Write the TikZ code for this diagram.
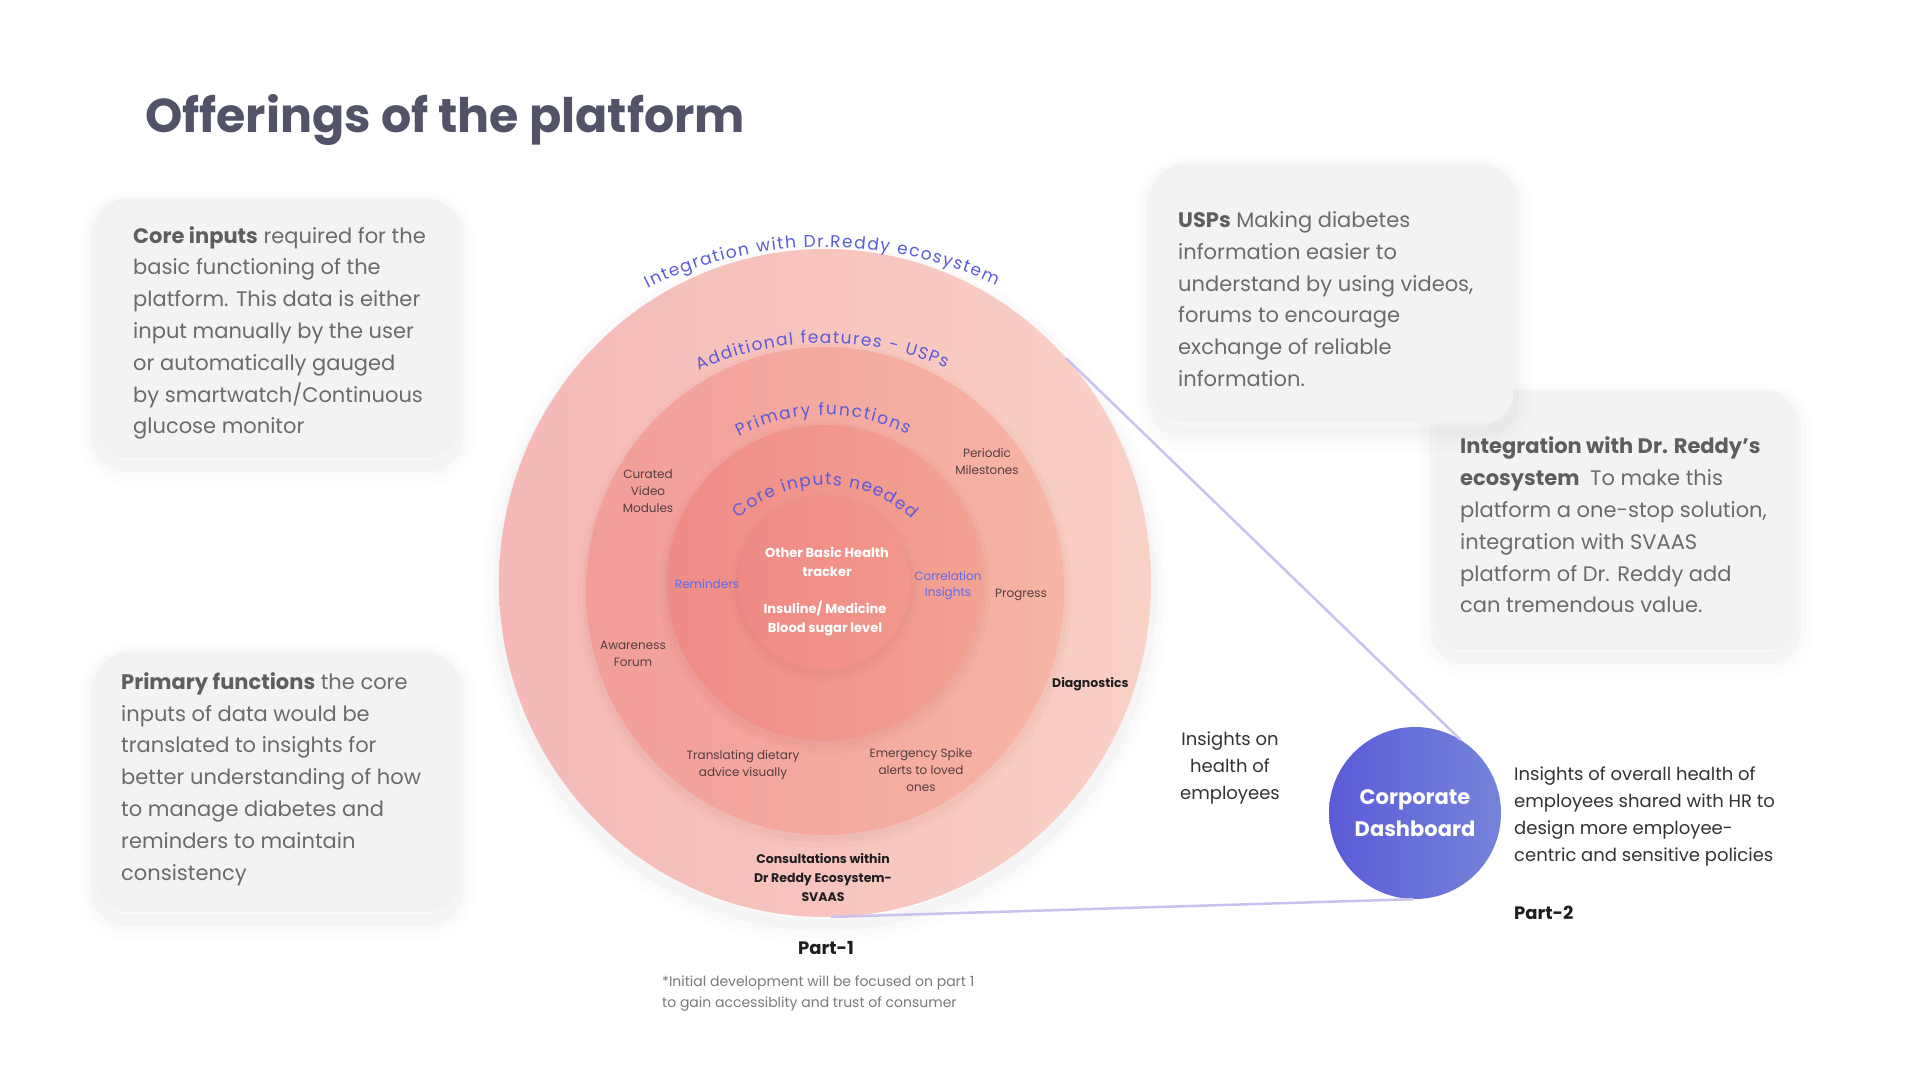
\documentclass[tikz,border=0pt]{standalone}
\usepackage{fontspec}
\setmainfont{Poppins}
\usetikzlibrary{decorations.text,shapes.geometric}
\definecolor{titlec}{HTML}{525268}
\definecolor{boxfill}{HTML}{F3F3F3}
\definecolor{bodyc}{HTML}{6B6B6B}
\definecolor{boldc}{HTML}{5E5E5E}
\definecolor{curvec}{HTML}{5A5CD8}
\definecolor{bluelab}{HTML}{5C6CE6}
\definecolor{labc}{HTML}{543E3E}
\definecolor{darkc}{HTML}{1E1E1E}
\definecolor{textc}{HTML}{333333}
\definecolor{notec}{HTML}{7A7A7A}
\definecolor{lav}{HTML}{C9C1F0}
\definecolor{r1l}{HTML}{F5B8B6}
\definecolor{r1r}{HTML}{F9D1C6}
\definecolor{r2l}{HTML}{F29D9B}
\definecolor{r2r}{HTML}{F6B5A5}
\definecolor{r3l}{HTML}{EF8B87}
\definecolor{r3r}{HTML}{F3A293}
\definecolor{r4l}{HTML}{EF8A86}
\definecolor{r4r}{HTML}{F2978C}
\definecolor{dashl}{HTML}{5A5BD7}
\definecolor{dashr}{HTML}{7584DA}
\tikzset{
 softshadow/.style={
   preaction={draw=black, draw opacity=0.008, line width=36pt, transform canvas={yshift=-10pt}},
   preaction={draw=black, draw opacity=0.012, line width=24pt, transform canvas={yshift=-9pt}},
   preaction={draw=black, draw opacity=0.018, line width=12pt, transform canvas={yshift=-8pt}}},
 ringshadow/.style={
   preaction={draw=black!60!red, draw opacity=0.02, line width=16pt, transform canvas={yshift=-5pt}},
   preaction={draw=black!60!red, draw opacity=0.025, line width=7pt, transform canvas={yshift=-4pt}}},
 card/.style={softshadow, rounded corners=30pt, fill=boxfill, inner sep=0pt, anchor=north west},
 cardtext/.style={anchor=west, align=left, inner sep=0pt, text=bodyc, font=\fontsize{21}{31.8}\selectfont},
 ring/.style={inner sep=0pt, outer sep=0pt},
 lab/.style={align=center, inner sep=0pt, text=labc, font=\fontsize{12}{17}\selectfont},
 bluel/.style={lab, text=bluelab},
 whitel/.style={align=center, inner sep=0pt, text=white, font=\fontsize{13}{19}\selectfont\bfseries},
 boldl/.style={align=center, inner sep=0pt, text=darkc, font=\fontsize{12.5}{19}\selectfont\bfseries},
 link/.style={draw=lav, line width=2.5pt},
 arctext/.style={decorate, decoration={text along path, text align=fit to path, text={|\fontsize{17}{17}\selectfont\color{curvec}|#1}}},
 plain/.style={inner sep=0pt, text=textc, font=\fontsize{18}{27}\selectfont},
}
\begin{document}
\begin{tikzpicture}[x=1pt,y=-1pt]
\fill[white] (0,0) rectangle (1920,1080);
\useasboundingbox (0,0) rectangle (1920,1080);

\node[anchor=base west, inner sep=0pt, text=titlec, font=\fontsize{47.5}{58}\selectfont\bfseries] (title) at (145,132) {Offerings of the platform};

% cards
\node[card, minimum width=360pt, minimum height=260pt] (cardA) at (97,198) {};
\node[cardtext] (textA) at (133,333) {{\bfseries\color{boldc}Core inputs} required for the\\basic functioning of the\\platform. This data is either\\input manually by the user\\or automatically gauged\\by smartwatch/Continuous\\glucose monitor};

\node[card, minimum width=360pt, minimum height=260pt] (cardB) at (97,652) {};
\node[cardtext] (textB) at (121,779) {{\bfseries\color{boldc}Primary functions} the core\\inputs of data would be\\translated to insights for\\better understanding of how\\to manage diabetes and\\reminders to maintain\\consistency};

\node[card, minimum width=360pt, minimum height=260pt] (cardD) at (1435,390) {};
\node[cardtext] (textD) at (1460,525) {{\bfseries\color{boldc}Integration with Dr. Reddy’s}\\{\bfseries\color{boldc}ecosystem}\hspace{0.5em}To make this\\platform a one-stop solution,\\integration with SVAAS\\platform of Dr. Reddy add\\can tremendous value.};

\node[card, minimum width=360pt, minimum height=259pt] (cardC) at (1153,164) {};
\node[cardtext] (textC) at (1178,299) {{\bfseries\color{boldc}USPs} Making diabetes\\information easier to\\understand by using videos,\\forums to encourage\\exchange of reliable\\information.};

% rings
\node[ring, ellipse, minimum width=652pt, minimum height=668pt, left color=r1l, right color=r1r, softshadow] (ring1) at (825,583) {};
\node[ring, ellipse, minimum width=478pt, minimum height=488pt, left color=r2l, right color=r2r, ringshadow] (ring2) at (825,591) {};
\node[ring, circle, minimum size=316pt, left color=r3l, right color=r3r, ringshadow] (ring3) at (825,583) {};
\node[ring, circle, minimum size=172pt, left color=r4l, right color=r4r, ringshadow] (ring4) at (824,583) {};

% curved titles
\coordinate (ca) at (825,650);
\coordinate (cb) at (825,644);
\coordinate (cc) at (825,599);
\coordinate (cd) at (825,611);
\path[arctext={Integration with Dr.Reddy ecosystem}] ([shift={(-116.1:403)}]ca) arc[start angle=-116.1, end angle=-64.9, radius=403];
\path[arctext={Additional features - USPs}] ([shift={(-114.8:301)}]cb) arc[start angle=-114.8, end angle=-66.3, radius=301];
\path[arctext={Primary functions}] ([shift={(-117.9:184)}]cc) arc[start angle=-117.9, end angle=-63.3, radius=184];
\path[arctext={Core inputs needed}] ([shift={(-133:126)}]cd) arc[start angle=-133, end angle=-46.6, radius=126];

% ring labels
\node[lab] (curated) at (648,491) {Curated\\Video\\Modules};
\node[lab] (periodic) at (987,461) {Periodic\\Milestones};
\node[bluel] (remind) at (707,584) {Reminders};
\node[bluel, font=\fontsize{12}{16}\selectfont] (corr) at (948,586) {Correlation\\Insights};
\node[lab] (progress) at (1021,595) {Progress};
\node[lab] (forum) at (633,654) {Awareness\\Forum};
\node[lab] (diet) at (743,765) {Translating dietary\\advice visually};
\node[lab] (spike) at (921,770) {Emergency Spike\\alerts to loved\\ones};
\node[whitel] (other) at (827,562) {Other Basic Health\\tracker};
\node[whitel] (insul) at (825,619) {Insuline/ Medicine\\Blood sugar level};
\node[boldl, anchor=west] (diag) at (1052,684) {Diagnostics};
\node[boldl] (consult) at (823,878) {Consultations within\\Dr Reddy Ecosystem-\\SVAAS};

% dashboard
\node[circle, minimum size=172pt, inner sep=0pt, left color=dashl, right color=dashr, text=white, align=center, font=\fontsize{21}{32}\selectfont\bfseries] (dash) at (1415,813) {Corporate\\Dashboard};

\draw[link] (ring1.43) -- (dash.58);
\draw[link] (ring1.-89) -- (dash.-91);

\node[plain, align=center] (inson) at (1230,768) {Insights on\\health of\\employees};
\node[plain, anchor=west, align=left] (insof) at (1514,816) {Insights of overall health of\\employees shared with HR to\\design more employee-\\centric and sensitive policies};
\node[plain, anchor=west, text=darkc, font=\fontsize{18}{27}\selectfont\bfseries] (part2) at (1514,913) {Part-2};
\node[plain, text=darkc, font=\fontsize{18}{27}\selectfont\bfseries] (part1) at (826,948) {Part-1};
\node[anchor=west, align=left, inner sep=0pt, text=notec, font=\fontsize{14}{21}\selectfont] (note) at (662,994) {*Initial development will be focused on part 1\\to gain accessiblity and trust of consumer};
\end{tikzpicture}
\end{document}
